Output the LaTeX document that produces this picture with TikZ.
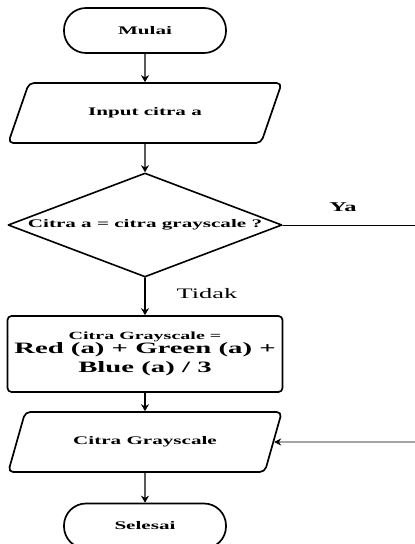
\documentclass[tikz,border=0pt]{standalone}
\usepackage{fontspec}
\newfontfamily\flowfont[FakeStretch=1.82]{Liberation Serif}
\usetikzlibrary{arrows.meta,shapes.geometric}
\tikzset{
 chart/.style={line cap=round,line join=round,
   font=\flowfont\fontsize{11.6}{14}\selectfont\bfseries},
 terminal/.style={rectangle,draw,line width=1.7pt,rounded corners=22pt,
   minimum width=162pt,minimum height=45pt,inner sep=0pt},
 io/.style={trapezium,trapezium stretches=true,trapezium left angle=46,
   trapezium right angle=134,draw,line width=1.7pt,rounded corners=5pt,
   minimum width=274pt,minimum height=60pt,inner sep=0pt},
 decision/.style={diamond,aspect=2.63,draw,line width=1.6pt,
   minimum width=274pt,minimum height=104pt,inner sep=0pt},
 process/.style={rectangle,draw,line width=1.7pt,rounded corners=4pt,
   minimum width=275pt,minimum height=76pt,inner sep=0pt,align=center,
   font=\flowfont\fontsize{11}{14}\selectfont\bfseries},
 flow/.style={draw,line width=1.3pt,-{Stealth[length=7pt,width=8pt]}},
 side/.style={draw,line width=.8pt},
 sideflow/.style={side,-{Stealth[length=7pt,width=7pt]}},
 branch/.style={inner sep=1pt}
}
\newcommand{\bigline}[1]{{\fontsize{15.8}{14}\selectfont #1}}

\begin{document}
\begin{tikzpicture}[chart,x=1pt,y=-1pt]
 \useasboundingbox (0,0) rectangle (415,544);
 \node[terminal] (start) at (145,30.5) {Mulai};
 \node[io] (inp) at (145,113) {Input citra a};
 \node[decision] (ask) at (145,225) {Citra a = citra grayscale ?};
 \node[process] (gray) at (145,354) {Citra Grayscale =\\
   \bigline{Red (a) + Green (a) +}\\[3.3pt] \bigline{Blue (a) / 3}};
 \node[io] (out) at (145,442) {Citra Grayscale};
 \node[terminal] (stop) at (145,526) {Selesai};
 \coordinate (yaend) at (415,225);
 \coordinate (back) at (415,442);
 % alur utama
 \draw[flow] (start) -- (inp);
 \draw[flow] (inp) -- (ask);
 \draw[flow] (ask) -- (gray);
 \draw[flow] (gray) -- (out);
 \draw[flow] (out) -- (stop);
 % cabang
 \draw[side] (ask) -- (yaend);
 \draw[sideflow] (back) -- (out);
 \node[branch,font=\flowfont\fontsize{13.4}{15}\selectfont\bfseries] (ya) at (343,207) {Ya};
 \node[branch,font=\flowfont\fontsize{14.5}{16}\selectfont] (tidak) at (207,294) {Tidak};
\end{tikzpicture}
\end{document}
